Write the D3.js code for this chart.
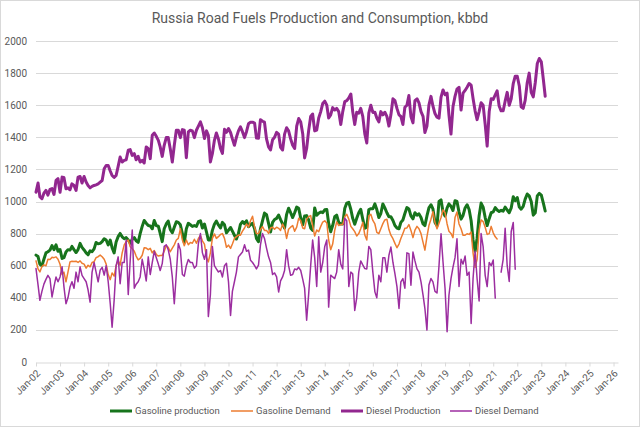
<!DOCTYPE html>
<html>
<head>
<meta charset="utf-8">
<script src="https://cdn.jsdelivr.net/npm/d3@7"></script>
<style>
	body { margin: 0; background: #ffffff; }
	text { font-family: Roboto, "Open Sans", sans-serif; fill: #595959; }
</style>
</head>
<body>
<script>
const chart_title = 'Russia Road Fuels Production and Consumption, kbbd';
const series_names = ['Gasoline production', 'Gasoline Demand', 'Diesel Production', 'Diesel Demand'];
const y_ticks = [0, 200, 400, 600, 800, 1000, 1200, 1400, 1600, 1800, 2000];
const x_tick_labels = ['Jan-02', 'Jan-03', 'Jan-04', 'Jan-05', 'Jan-06', 'Jan-07', 'Jan-08', 'Jan-09',
	'Jan-10', 'Jan-11', 'Jan-12', 'Jan-13', 'Jan-14', 'Jan-15', 'Jan-16', 'Jan-17', 'Jan-18', 'Jan-19',
	'Jan-20', 'Jan-21', 'Jan-22', 'Jan-23', 'Jan-24', 'Jan-25', 'Jan-26'];

// monthly values, first value = Jan 2002
const gasoline_production = [
	666, 657, 609, 600, 640, 680, 687, 697, 725, 700, 730, 690,
	701, 645, 650, 685, 700, 697, 720, 700, 682, 700, 739, 714,
	698, 680, 668, 693, 687, 705, 745, 737, 739, 750, 768, 760,
	730, 760, 712, 680, 748, 781, 801, 780, 768, 775, 760, 740,
	765, 775, 755, 745, 800, 845, 882, 865, 850, 848, 830, 882,
	850, 846, 801, 750, 830, 860, 878, 826, 805, 840, 874, 870,
	855, 800, 745, 830, 864, 855, 845, 850, 845, 874, 880, 835,
	860, 810, 760, 760, 820, 858, 878, 854, 835, 870, 855, 805,
	822, 838, 815, 790, 766, 801, 858, 875, 862, 880, 843, 856,
	864, 830, 770, 749, 830, 880, 928, 918, 864, 810, 870, 888,
	895, 916, 887, 860, 835, 920, 958, 930, 900, 930, 965, 958,
	897, 855, 910, 912, 885, 835, 820, 960, 914, 927, 935, 930,
	948, 950, 864, 812, 850, 905, 915, 870, 860, 860, 958, 990,
	995, 950, 895, 858, 895, 930, 952, 890, 833, 840, 950, 955,
	955, 985, 950, 900, 925, 985, 960, 930, 905, 905, 882, 850,
	835, 830, 870, 885, 925, 962, 954, 910, 892, 930, 915, 923,
	900, 860, 850, 910, 960, 980, 954, 870, 850, 1000, 1010, 934,
	910, 960, 985, 970, 944, 1005, 1000, 934, 890, 913, 960, 980,
	950, 880, 760, 690, 770, 910, 990, 965, 900, 850, 893, 930,
	935, 962, 947, 938, 945, 940, 965, 947, 930, 960, 1030, 1005,
	1025, 965, 952, 970, 1015, 1047, 1035, 1000, 915, 930, 1035, 1051,
	1040, 990, 941
];
const gasoline_demand = [
	630, 580, 561, 595, 605, 600, 640, 639, 652, 650, 655, 640,
	609, 545, 560, 500, 560, 624, 628, 626, 628, 620, 630, 615,
	610, 585, 603, 593, 620, 625, 650, 656, 666, 656, 640, 610,
	545, 513, 555, 535, 600, 634, 603, 680, 730, 750, 760, 718,
	706, 690, 660, 636, 645, 665, 712, 710, 700, 708, 680, 694,
	670, 660, 664, 664, 690, 725, 715, 687, 710, 730, 760, 770,
	830, 760, 725, 760, 730, 745, 740, 765, 740, 770, 788, 755,
	735, 650, 624, 680, 770, 798, 770, 781, 795, 800, 770, 715,
	728, 708, 735, 770, 781, 791, 790, 815, 835, 860, 840, 880,
	908, 840, 800, 800, 825, 843, 820, 820, 801, 835, 840, 828,
	840, 833, 820, 860, 835, 770, 827, 840, 850, 815, 840, 895,
	880, 835, 830, 890, 906, 912, 850, 785, 822, 812, 845, 872,
	880, 866, 760, 700, 735, 820, 873, 850, 856, 856, 906, 920,
	890, 845, 830, 812, 785, 800, 830, 870, 791, 760, 910, 920,
	882, 860, 808, 800, 830, 862, 885, 890, 825, 790, 768, 739,
	712, 735, 770, 801, 833, 835, 856, 820, 775, 822, 845, 830,
	800, 745, 697, 780, 850, 890, 937, 870, 830, 865, 900, 948,
	930, 860, 815, 801, 775, 900, 934, 860, 830, 790, 790, 799,
	795, 810, 680, 590, 640, 820, 885, 875, 840, 795, 800, 845,
	805, 780, 767
];
const diesel_production = [
	1058, 1115, 1030, 1017, 1052, 1069, 1040, 1075, 1080, 1044, 1131, 1142,
	1058, 1152, 1150, 1079, 1085, 1073, 1110, 1100, 1069, 1152, 1156, 1115,
	1156, 1121, 1100, 1085, 1094, 1100, 1104, 1110, 1121, 1131, 1204, 1225,
	1225, 1190, 1162, 1150, 1162, 1219, 1277, 1246, 1256, 1260, 1319, 1323,
	1287, 1298, 1260, 1281, 1246, 1256, 1240, 1340, 1329, 1267, 1413, 1427,
	1406, 1381, 1340, 1281, 1350, 1398, 1398, 1329, 1246, 1350, 1444, 1444,
	1398, 1448, 1444, 1273, 1433, 1444, 1440, 1398, 1444, 1470, 1496, 1460,
	1392, 1440, 1413, 1246, 1298, 1381, 1427, 1390, 1330, 1300, 1450, 1431,
	1455, 1430, 1390, 1350, 1400, 1440, 1465, 1435, 1398, 1435, 1485, 1494,
	1494, 1488, 1395, 1394, 1510, 1500, 1494, 1390, 1340, 1321, 1385, 1400,
	1431, 1420, 1337, 1321, 1420, 1460, 1440, 1390, 1350, 1330, 1470, 1517,
	1495, 1420, 1271, 1330, 1440, 1530, 1545, 1440, 1445, 1520, 1560, 1610,
	1625, 1600, 1520, 1540, 1585, 1570, 1580, 1560, 1480, 1560, 1622, 1628,
	1645, 1670, 1560, 1480, 1556, 1550, 1580, 1530, 1421, 1365, 1550, 1600,
	1555, 1556, 1520, 1496, 1560, 1540, 1556, 1530, 1470, 1540, 1640, 1629,
	1580, 1540, 1530, 1480, 1587, 1600, 1660, 1530, 1490, 1629, 1640, 1615,
	1560, 1530, 1430, 1470, 1600, 1655, 1595, 1548, 1525, 1519, 1650, 1695,
	1665, 1675, 1540, 1420, 1590, 1655, 1700, 1712, 1570, 1675, 1692, 1712,
	1735, 1725, 1642, 1565, 1510, 1560, 1615, 1600, 1480, 1345, 1560, 1640,
	1636, 1665, 1690, 1595, 1565, 1565, 1625, 1680, 1600, 1640, 1735, 1781,
	1780, 1720, 1590, 1580, 1630, 1740, 1800, 1680, 1652, 1740, 1860, 1891,
	1870, 1760, 1656
];
const diesel_demand = [
	582, 480, 384, 440, 485, 515, 540, 520, 405, 470, 530, 500,
	530, 593, 470, 363, 400, 467, 500, 460, 560, 500, 593, 540,
	520, 500, 450, 373, 560, 620, 560, 500, 572, 590, 541, 600,
	500, 363, 217, 384, 600, 655, 488, 620, 620, 760, 420, 634,
	822, 460, 485, 500, 530, 640, 580, 505, 655, 545, 620, 690,
	650, 610, 570, 613, 720, 730, 700, 640, 530, 363, 551, 739,
	700, 545, 535, 600, 639, 620, 620, 585, 600, 739, 800, 680,
	640, 700, 283, 420, 720, 600, 580, 561, 570, 530, 600, 615,
	499, 290, 440, 500, 560, 655, 670, 685, 730, 690, 697, 634,
	620, 600, 580, 603, 730, 801, 770, 710, 655, 620, 545, 555,
	530, 436, 505, 530, 570, 700, 600, 540, 545, 580, 575, 590,
	570, 515, 460, 260, 420, 600, 760, 650, 470, 781, 560, 620,
	720, 760, 342, 541, 530, 520, 560, 700, 610, 580, 896, 880,
	470, 560, 550, 321, 400, 560, 630, 605, 582, 580, 720, 700,
	560, 437, 400, 540, 500, 650, 650, 560, 665, 716, 620, 550,
	470, 333, 499, 520, 460, 680, 675, 478, 685, 630, 580, 560,
	499, 416, 333, 199, 480, 520, 499, 440, 430, 600, 799, 623,
	458, 189, 416, 520, 590, 650, 768, 470, 640, 610, 660, 540,
	560, 240, 520, 690, 520, 380, 800, 719, 540, 470, 620, 600,
	636, 398, null, null, 560, 640, 833, 600, 502, 813, 869, 578
];
const series_colors = ['#17741c', '#ed7d31', '#92278f', '#9c2ea0'];
const series_widths = [3, 1.5, 3, 1.5];

function init()
{
	const svg_width = 640;
	const svg_height = 427;

	var all_series = [gasoline_production, gasoline_demand, diesel_production, diesel_demand];

	var svg = d3.select('body').append('svg')
		.attr('width', svg_width)
		.attr('height', svg_height);

	svg.append('rect')
		.attr('x', 0.5).attr('y', 0.5)
		.attr('width', svg_width - 1).attr('height', svg_height - 1)
		.attr('fill', '#ffffff')
		.attr('stroke', '#d9d9d9');

	var x = d3.scaleTime()
		.domain([new Date(2002, 0, 1), new Date(2026, 2, 10)])
		.range([36, 618]);
	var y = d3.scaleLinear()
		.domain([0, 2000])
		.range([362, 41]);

	svg.append('text')
		.attr('x', svg_width / 2)
		.attr('y', 23)
		.attr('text-anchor', 'middle')
		.style('font-size', '14px')
		.text(chart_title);

	// gridlines
	svg.append('g')
		.selectAll('line')
		.data(y_ticks.slice(1))
		.enter()
		.append('line')
			.attr('x1', x.range()[0])
			.attr('x2', x.range()[1])
			.attr('y1', function(d) { return Math.round(y(d)) + 0.5; })
			.attr('y2', function(d) { return Math.round(y(d)) + 0.5; })
			.attr('stroke', '#d9d9d9')
			.attr('stroke-width', 1);

	svg.append('g')
		.selectAll('text')
		.data(y_ticks)
		.enter()
		.append('text')
			.attr('x', 27)
			.attr('y', function(d) { return y(d); })
			.attr('dy', '0.35em')
			.attr('text-anchor', 'end')
			.style('font-size', '10px')
			.text(function(d) { return d; });

	// x axis
	var tick_dates = x_tick_labels.map(function(d, i) { return new Date(2002 + i, 0, 1); });
	var x_axis = d3.axisBottom(x)
		.tickValues(tick_dates)
		.tickFormat(function(d, i) { return x_tick_labels[i]; })
		.tickSize(4)
		.tickSizeOuter(0);
	var gx = svg.append('g')
		.attr('transform', 'translate(0,' + (Math.round(y(0)) + 0.5) + ')')
		.call(x_axis);
	gx.select('.domain').attr('stroke', '#d9d9d9');
	gx.selectAll('.tick line').attr('stroke', '#d9d9d9');
	gx.selectAll('.tick text')
		.attr('x', 0)
		.attr('y', 0)
		.attr('dy', '0.35em')
		.attr('transform', 'translate(2,9) rotate(-45)')
		.style('text-anchor', 'end')
		.style('font-size', '10px')
		.style('font-family', 'Roboto, sans-serif')
		.attr('fill', '#595959');

	// series lines
	var line = d3.line()
		.defined(function(d) { return d != null; })
		.x(function(d, i) { return x(new Date(2002, i, 1)); })
		.y(function(d) { return y(d); });

	svg.append('g')
		.selectAll('path')
		.data(all_series)
		.enter()
		.append('path')
			.attr('fill', 'none')
			.attr('stroke', function(d, i) { return series_colors[i]; })
			.attr('stroke-width', function(d, i) { return series_widths[i]; })
			.attr('stroke-linejoin', 'round')
			.attr('stroke-linecap', 'round')
			.attr('d', line);

	// legend
	const legend_x = [110, 231, 341, 450];
	var legend = svg.append('g')
		.selectAll('g')
		.data(series_names)
		.enter()
		.append('g')
			.attr('transform', function(d, i) { return 'translate(' + legend_x[i] + ',411)'; });
	legend.append('line')
		.attr('x1', 0).attr('x2', 22)
		.attr('stroke', function(d, i) { return series_colors[i]; })
		.attr('stroke-width', function(d, i) { return series_widths[i]; });
	legend.append('text')
		.attr('x', 25)
		.attr('dy', '0.35em')
		.style('font-size', '9.5px')
		.text(function(d) { return d; });
}

init();
</script>
</body>
</html>
